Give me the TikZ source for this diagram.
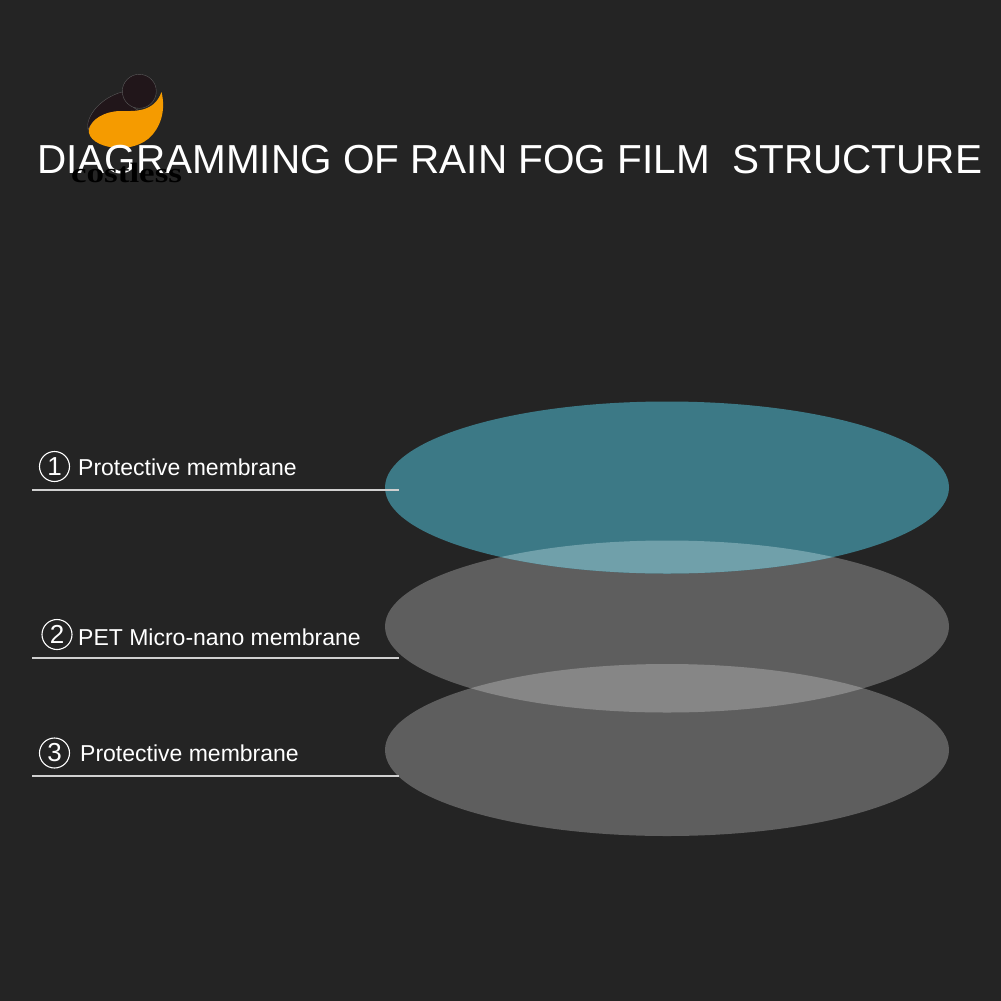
\documentclass[tikz,border=0pt]{standalone}
\usepackage{graphicx}
\usepackage{fontspec}
\setmainfont{Liberation Sans}
\newfontfamily\logofont{Liberation Serif}[BoldFont={Liberation Serif Bold}]
\definecolor{bgc}{HTML}{242424}
\definecolor{tealc}{HTML}{3C7986}
\definecolor{grayc}{HTML}{5E5E5E}
\definecolor{overteal}{HTML}{70A0AA}
\definecolor{overgray}{HTML}{868686}
\definecolor{rulecol}{HTML}{D0D0D0}
\definecolor{orangec}{HTML}{F59B00}
\definecolor{darkc}{HTML}{21161A}
\definecolor{logoedge}{HTML}{5A5A5A}
\tikzset{
  x=1pt,y=-1pt,
  lbltext/.style={text=white,anchor=west,inner sep=0pt,font=\fontsize{23}{25}\selectfont},
  numring/.style={text=white,draw=white,circle,line width=1.1pt,minimum size=30pt,inner sep=0pt,font=\fontsize{26}{26}\selectfont},
  ruleline/.style={draw=rulecol,line width=1.2pt},
  logodark/.style={fill=darkc,draw=logoedge,line width=0.4pt}
}
\begin{document}
\begin{tikzpicture}
\fill[bgc] (0,0) rectangle (1001,1001);
\useasboundingbox (0,0) rectangle (1001,1001);
% discs
\fill[grayc] (667,626.5) ellipse [x radius=282,y radius=86];
\fill[grayc] (667,750) ellipse [x radius=282,y radius=86];
\begin{scope}
\clip (667,750) ellipse [x radius=282,y radius=86];
\fill[overgray] (667,626.5) ellipse [x radius=282,y radius=86];
\end{scope}
\fill[tealc] (667,487.5) ellipse [x radius=282,y radius=86];
\begin{scope}
\clip (667,487.5) ellipse [x radius=282,y radius=86];
\fill[overteal] (667,626.5) ellipse [x radius=282,y radius=86];
\end{scope}
% logo
\path[logodark] (88,130) .. controls (85,117) and (100,98) .. (122,92) .. controls (128,104) and (136,112) .. (146,112) -- (118,113) .. controls (104,113) and (92,120) .. (88,130) -- cycle;
\path[logodark] (139.3,91.3) circle [radius=17];
\fill[orangec] (161.5,92) .. controls (166,110) and (161,128) .. (148,139) .. controls (138,147) and (124,149) .. (113,147.5) .. controls (100,146) and (87,139) .. (89,129) .. controls (92,119) and (104,111.5) .. (120,111) .. controls (134,111) and (154,113) .. (161.5,92) -- cycle;
% title
\node[name=title,text=white,anchor=base west,inner sep=0pt,font=\fontsize{40.5}{44}\selectfont] at (37,173) {DIAGRAMMING OF RAIN FOG FILM\ \ STRUCTURE};
\node[name=brand,text=black,anchor=base west,inner sep=0pt,font=\logofont\bfseries\fontsize{28}{30}\selectfont] at (71,182.5) {\scalebox{1.25}[1]{costless}};
% labels
\node[numring] (n1) at (54.5,466.5) {1};
\node[lbltext] (l1) at (78,467) {Protective membrane};
\node[numring] (n2) at (57,634.5) {2};
\node[lbltext] (l2) at (78,637.5) {PET Micro-nano membrane};
\node[numring] (n3) at (54.5,753) {3};
\node[lbltext] (l3) at (80,753.5) {Protective membrane};
\coordinate (a1) at (32,490); \coordinate (b1) at (399,490);
\coordinate (a2) at (32,658); \coordinate (b2) at (399,658);
\coordinate (a3) at (32,776); \coordinate (b3) at (399,776);
\draw[ruleline] (a1) -- (b1);
\draw[ruleline] (a2) -- (b2);
\draw[ruleline] (a3) -- (b3);
\end{tikzpicture}
\end{document}
